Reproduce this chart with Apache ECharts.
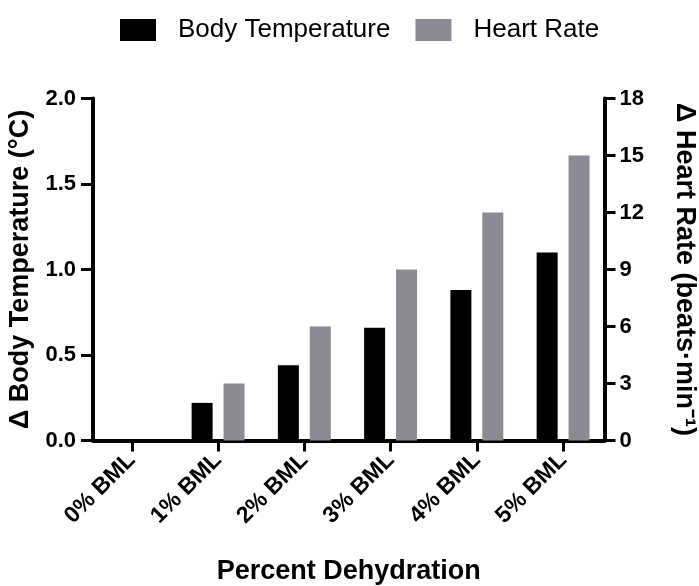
<!DOCTYPE html>
<html>
<head>
<meta charset="utf-8">
<script src="https://cdn.jsdelivr.net/npm/echarts@6/dist/echarts.min.js"></script>
<style>
html,body{margin:0;padding:0;background:#fff;}
#chart{width:699px;height:586px;}
</style>
</head>
<body>
<div id="chart"></div>
<script>
// Data
var categories = ['0% BML', '1% BML', '2% BML', '3% BML', '4% BML', '5% BML'];
var bodyTemperature = [0, 0.22, 0.44, 0.66, 0.88, 1.10];
var heartRate = [0, 3, 6, 9, 12, 15];
var leftTicks = [0, 0.5, 1.0, 1.5, 2.0];
var rightTicks = [0, 3, 6, 9, 12, 15, 18];
var seriesNames = ['Body Temperature', 'Heart Rate'];

var FONT = '"Liberation Sans", Arial, Helvetica, sans-serif';
var positions = categories.map(function (c, i) { return i; });

var chart = echarts.init(document.getElementById('chart'), null, {renderer: 'canvas'});
chart.setOption({
  backgroundColor: '#ffffff',
  animation: false,
  legend: {
    top: 12,
    left: 115,
    itemWidth: 36,
    itemHeight: 22,
    itemGap: 25,
    icon: 'rect',
    textStyle: {fontFamily: FONT, fontSize: 26, color: '#000', padding: [0, 0, 0, 17]},
    data: seriesNames
  },
  grid: {left: 93, right: 94.5, top: 98.5, bottom: 145.5, containLabel: false, outerBoundsMode: 'none'},
  xAxis: {
    type: 'value',
    min: -0.45,
    max: 5.48,
    name: 'Percent Dehydration',
    nameLocation: 'middle',
    nameGap: 118,
    nameTextStyle: {fontFamily: FONT, fontSize: 27, fontWeight: 'bold', color: '#000', verticalAlign: 'top'},
    splitLine: {show: false},
    axisLine: {onZero: false, lineStyle: {color: '#000', width: 4}},
    axisTick: {show: true, length: 11, customValues: positions, lineStyle: {color: '#000', width: 3}},
    axisLabel: {
      customValues: positions,
      rotate: 45,
      margin: 16,
      fontFamily: FONT, fontSize: 23, fontWeight: 'bold', color: '#000',
      formatter: function (v) { return categories[Math.round(v)]; }
    }
  },
  yAxis: [{
    type: 'value',
    min: 0, max: 2, interval: 0.5,
    position: 'left',
    name: '\u0394 Body Temperature (\u00B0C)',
    nameLocation: 'middle',
    nameGap: 50,
    nameRotate: 90,
    nameTextStyle: {fontFamily: FONT, fontSize: 27, fontWeight: 'bold', color: '#000'},
    splitLine: {show: false},
    axisLine: {show: true, onZero: false, lineStyle: {color: '#000', width: 4}},
    axisTick: {show: true, length: 12, lineStyle: {color: '#000', width: 3}},
    axisLabel: {
      margin: 17, fontFamily: FONT, fontSize: 22, fontWeight: 'bold', color: '#000',
      formatter: function (v) { return v.toFixed(1); }
    }
  }, {
    type: 'value',
    min: 0, max: 18, interval: 3,
    position: 'right',
    name: '\u0394 Heart Rate (beats\u00B7min\u207B\u00B9)',
    nameLocation: 'middle',
    nameGap: 66,
    nameRotate: -90,
    nameTextStyle: {fontFamily: FONT, fontSize: 27, fontWeight: 'bold', color: '#000'},
    splitLine: {show: false},
    axisLine: {show: true, onZero: false, lineStyle: {color: '#000', width: 4}},
    axisTick: {show: true, length: 11, lineStyle: {color: '#000', width: 3}},
    axisLabel: {margin: 15, fontFamily: FONT, fontSize: 22, fontWeight: 'bold', color: '#000'}
  }],
  series: [{
    name: seriesNames[0],
    type: 'bar',
    xAxisIndex: 0,
    yAxisIndex: 0,
    barWidth: 21,
    barGap: '52%',
    itemStyle: {color: '#000000'},
    data: positions.map(function (p, i) { return [p, bodyTemperature[i]]; })
  }, {
    name: seriesNames[1],
    type: 'bar',
    xAxisIndex: 0,
    yAxisIndex: 1,
    barWidth: 21,
    barGap: '52%',
    itemStyle: {color: '#8c8b91'},
    data: positions.map(function (p, i) { return [p, heartRate[i]]; })
  }]
});
</script>
</body>
</html>
